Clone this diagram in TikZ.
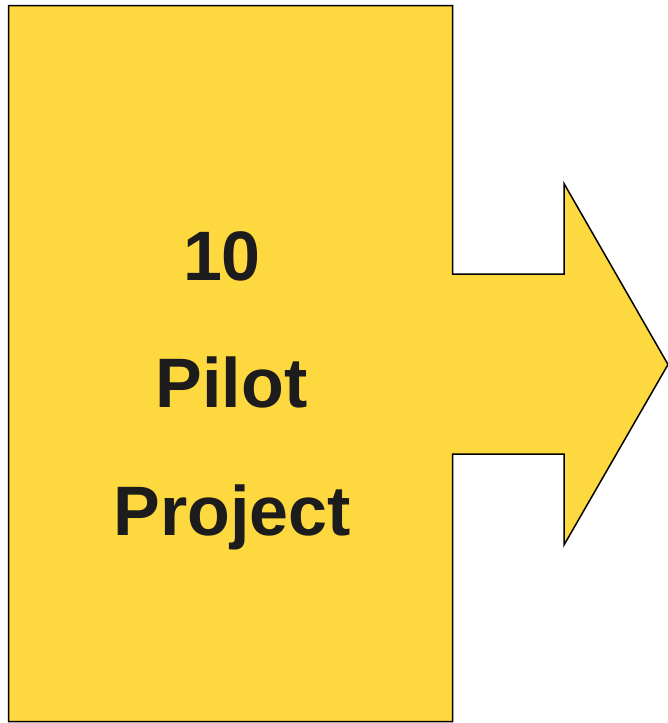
\documentclass[tikz,border=0pt]{standalone}
\usepackage{fontspec}
\setmainfont{Liberation Sans}
\definecolor{boxyellow}{HTML}{FED83F}
\definecolor{txtdark}{HTML}{1C1C1C}
\tikzset{
  shapeline/.style={fill=boxyellow, draw=black, line width=1.5pt, line join=miter},
  bigtext/.style={anchor=base, inner sep=0pt, text=txtdark, font=\fontsize{70}{84}\selectfont\bfseries}
}
\begin{document}
\begin{tikzpicture}[x=1pt,y=-1pt]
\useasboundingbox (0,0) rectangle (668,723);
\draw[shapeline] (8.5,5.5) -- (452.5,5.5) -- (452.5,274) -- (564,274) -- (564,183.5)
  -- (668,364.5) -- (564,545) -- (564,454) -- (452.5,454) -- (452.5,721.5)
  -- (8.5,721.5) -- cycle;
\node[bigtext] (num) at (222,280) {10};
\node[bigtext] (pilot) at (231.5,407) {Pilot};
\node[bigtext] (project) at (232.5,535) {Project};
\end{tikzpicture}
\end{document}
